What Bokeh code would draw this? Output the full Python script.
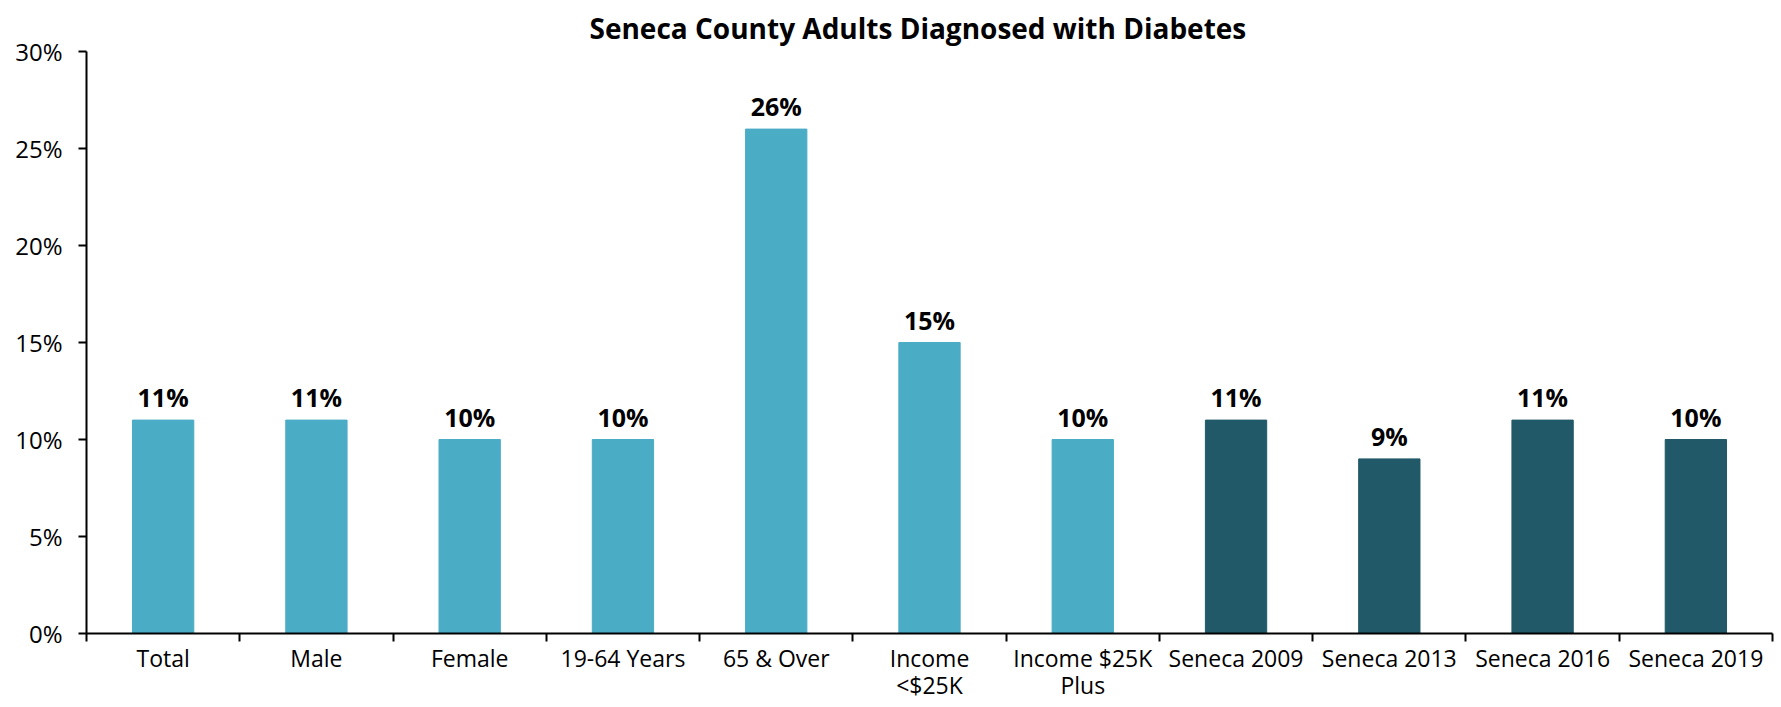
from bokeh.plotting import figure
from bokeh.models import Range1d, FixedTicker, NumeralTickFormatter, ColumnDataSource, LabelSet
from bokeh.core.properties import value
from bokeh.embed import file_html
from bokeh.resources import INLINE

categories = ["Total", "Male", "Female", "19-64 Years", "65 & Over", "Income\n<$25K",
              "Income $25K\nPlus", "Seneca 2009", "Seneca 2013", "Seneca 2016", "Seneca 2019"]
values = [0.11, 0.11, 0.10, 0.10, 0.26, 0.15, 0.10, 0.11, 0.09, 0.11, 0.10]
groups = ["2019 survey"] * 7 + ["trend"] * 4
y_ticks = [0, 0.05, 0.10, 0.15, 0.20, 0.25, 0.30]
title_text = "Seneca County Adults Diagnosed with Diabetes"

palette = {"2019 survey": "#4BACC6", "trend": "#215968"}
FONT = "Open Sans"

n = len(categories)
xs = [i + 0.5 for i in range(n)]
src = ColumnDataSource(dict(
    x=xs, top=values, color=[palette[g] for g in groups],
    label=[f"{round(v * 100)}%" for v in values],
))

p = figure(width=1776, height=705, output_backend="svg", toolbar_location=None,
           x_range=Range1d(0, n), y_range=Range1d(0, 0.30),
           min_border_left=86, min_border_top=51, min_border_bottom=72, min_border_right=4,
           title=title_text)
p.outline_line_color = None
p.xgrid.grid_line_color = None
p.ygrid.grid_line_color = None

p.title.align = "left"
p.title.offset = 503
p.title.text_font = FONT
p.title.text_font_style = "bold"
p.title.text_font_size = "28px"
p.title.text_color = "#000000"
p.title.standoff = 10

p.vbar(x="x", top="top", width=0.4, bottom=0, color="color", source=src)

labels = LabelSet(x="x", y="top", text="label", source=src, text_align="center",
                  text_baseline="bottom", y_offset=6, text_font=value(FONT),
                  text_font_style="bold", text_font_size="25px", text_color="#000000")
p.add_layout(labels)

# x axis
xa = p.xaxis[0]
xa.ticker = FixedTicker(ticks=xs, minor_ticks=list(range(n + 1)))
xa.major_label_overrides = {x: c for x, c in zip(xs, categories)}
xa.major_tick_out = 0
xa.major_tick_in = 0
xa.minor_tick_out = 8
xa.minor_tick_in = 0
xa.minor_tick_line_color = "#000000"
xa.minor_tick_line_width = 2
xa.axis_line_color = "#000000"
xa.axis_line_width = 2
xa.major_label_text_font = FONT
xa.major_label_text_font_size = "23px"
xa.major_label_text_color = "#000000"
xa.major_label_text_line_height = 0.86
xa.major_label_standoff = 0

# y axis
ya = p.yaxis[0]
ya.ticker = FixedTicker(ticks=y_ticks)
ya.formatter = NumeralTickFormatter(format="0%")
ya.major_tick_out = 8
ya.major_tick_in = 0
ya.minor_tick_out = 0
ya.minor_tick_in = 0
ya.major_tick_line_color = "#000000"
ya.major_tick_line_width = 2
ya.axis_line_color = "#000000"
ya.axis_line_width = 2
ya.major_label_text_font = FONT
ya.major_label_text_font_size = "24px"
ya.major_label_text_color = "#000000"
ya.major_label_standoff = 16

open("out.html", "w").write(file_html(p, INLINE))
